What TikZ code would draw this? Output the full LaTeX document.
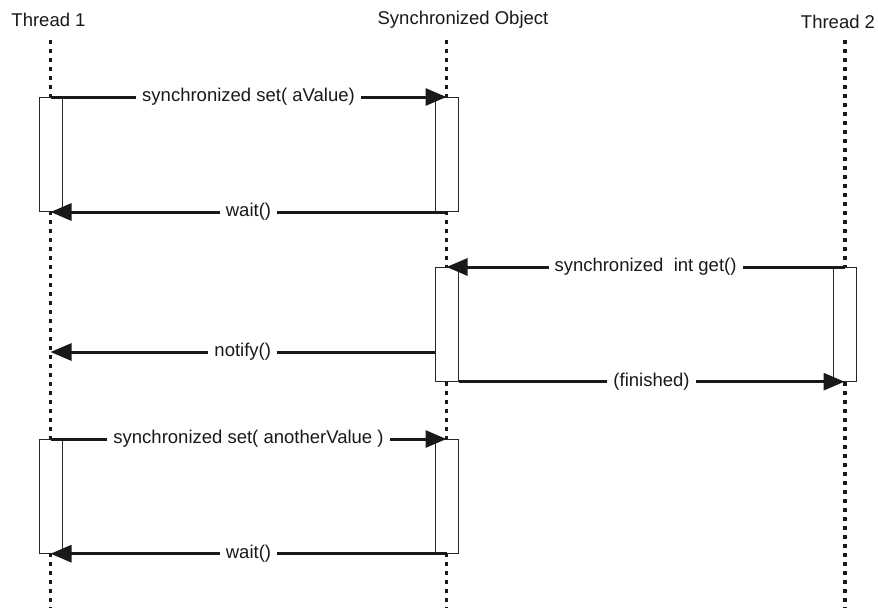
\documentclass[tikz,border=0pt]{standalone}
\usepackage{fontspec}
\setmainfont{Liberation Sans}
\usetikzlibrary{arrows.meta}
\begin{document}
\begin{tikzpicture}[x=1pt,y=-1pt,
  every node/.style={font=\fontsize{18.5}{22}\selectfont, text=black!90},
  lifeline/.style={line width=3.1pt, dash pattern=on 4pt off 5pt, black!90},
  actbox/.style={draw=black!85, line width=1pt, fill=white, minimum width=23pt, inner sep=0pt},
  msg/.style={line width=3pt, black!90, -{Triangle[length=21pt,width=17pt]}},
  msglabel/.style={fill=white, inner xsep=6pt, inner ysep=1pt}]
\useasboundingbox (0,0) rectangle (878,608);

% lifeline heads
\node (h1) at (48.5,20) {Thread 1};
\node (h2) at (463,20) {Synchronized Object};
\node (h3) at (838,22) {Thread 2};
\coordinate (l1top) at (50.5,40);
\coordinate (l2top) at (446.5,40);
\coordinate (l3top) at (845,40);
\coordinate (l1end) at (50.5,608);
\coordinate (l2end) at (446.5,608);
\coordinate (l3end) at (845,608);
\draw[lifeline] (l1top) -- (l1end);
\draw[lifeline] (l2top) -- (l2end);
\draw[lifeline] (l3top) -- (l3end);

% activation boxes
\node[actbox, minimum height=114pt, anchor=north] (b1) at (50.5,97) {};
\node[actbox, minimum height=114pt, anchor=north] (s1) at (446.5,97) {};
\node[actbox, minimum height=113.7pt, anchor=north] (s2) at (446.5,267) {};
\node[actbox, minimum height=113.7pt, anchor=north] (t2) at (844.5,267) {};
\node[actbox, minimum height=113.7pt, anchor=north] (b2) at (50.5,439) {};
\node[actbox, minimum height=113.7pt, anchor=north] (s3) at (446.5,439) {};

\coordinate (nfrom) at (435,352);
\coordinate (nto) at (50.5,352);

% messages
\draw[msg] (b1.north) -- node[msglabel] {synchronized set( aValue)} (s1.north);
\draw[msg] (s1.south) -- node[msglabel] {wait()} (b1.south);
\draw[msg] (t2.north) -- node[msglabel] {synchronized\ \ int get()} (s2.north);
\draw[msg] (nfrom) -- node[msglabel] {notify()} (nto);
\draw[msg] (s2.south east) -- node[msglabel] {(finished)} (t2.south);
\draw[msg] (b2.north) -- node[msglabel] {synchronized set( anotherValue )} (s3.north);
\draw[msg] (s3.south) -- node[msglabel] {wait()} (b2.south);
\end{tikzpicture}
\end{document}
